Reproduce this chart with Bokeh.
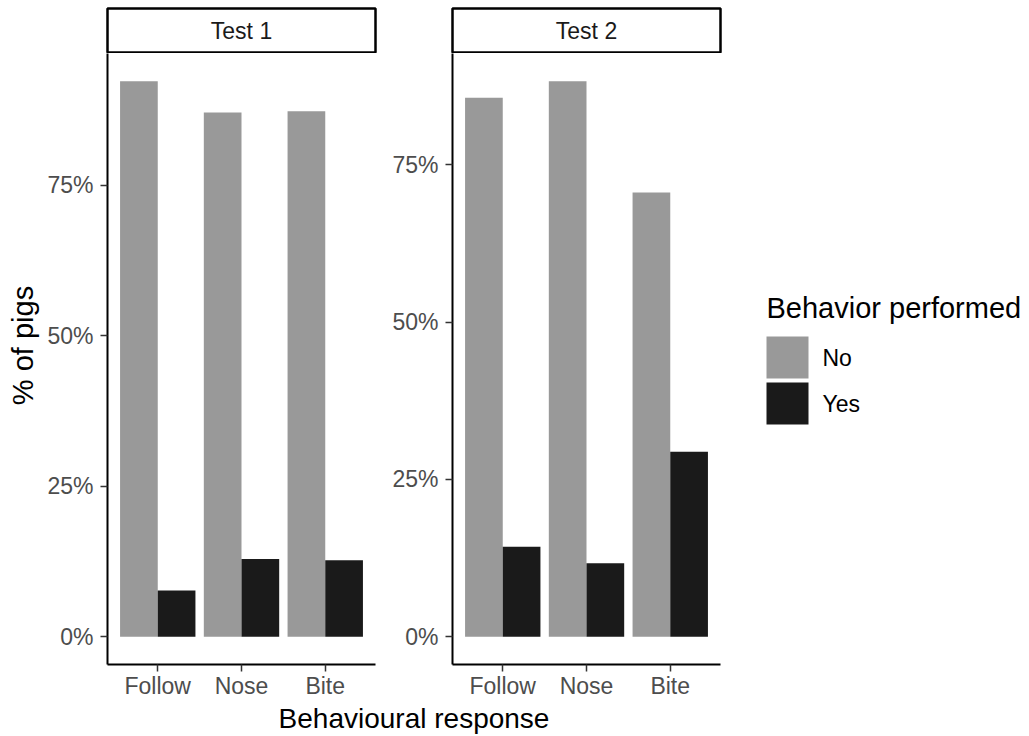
import numpy as np
from bokeh.plotting import figure
from bokeh.layouts import row, column
from bokeh.models import (ColumnDataSource, FactorRange, Range1d, FixedTicker,
                          PrintfTickFormatter, Label)
from bokeh.core.properties import value
from bokeh.transform import dodge
from bokeh.embed import file_html
from bokeh.resources import INLINE

# ---------------- data ----------------
categories = ["Follow", "Nose", "Bite"]
groups = ["No", "Yes"]
test1_no = [92.3, 87.1, 87.3]
test1_yes = [7.7, 12.9, 12.7]
test2_no = [85.7, 88.3, 70.6]
test2_yes = [14.3, 11.7, 29.4]
y_ticks = [0, 25, 50, 75]
facet_titles = ["Test 1", "Test 2"]
colors = ["#999999", "#1A1A1A"]
x_title = "Behavioural response"
y_title = "% of pigs"
legend_title = "Behavior performed"

FONT = "Liberation Sans"
TICK_PX = "23px"
TITLE_PX = "29px"

FRAME_W = 268
STRIP_H = 53
BOTTOM_B = 38
PANEL_H = 611 + BOTTOM_B
XT_H = 32
TOTAL_W = 1027
YT_W = 40
TOP_H = STRIP_H + PANEL_H


def blank_fig(width, height, xr, yr, **kw):
    f = figure(width=width, height=height, x_range=xr, y_range=yr,
               output_backend="svg", toolbar_location=None, title=None,
               x_axis_type=None, y_axis_type=None, **kw)
    f.grid.visible = False
    f.outline_line_color = None
    f.border_fill_color = "white"
    f.background_fill_color = "white"
    return f


def make_panel(no, yes, width, left, right):
    src = ColumnDataSource(dict(cat=categories, no=no, yes=yes))
    ymax = max(no + yes)
    p = figure(x_range=FactorRange(factors=categories, range_padding=0.2 / 3),
               y_range=Range1d(-0.05 * ymax, 1.05 * ymax),
               width=width, height=PANEL_H, output_backend="svg",
               toolbar_location=None, title=None,
               min_border_left=left, min_border_right=right,
               min_border_top=0, min_border_bottom=BOTTOM_B)
    p.vbar(x=dodge("cat", -0.225, range=p.x_range), top="no", width=0.45,
           source=src, fill_color=colors[0], line_color=None)
    p.vbar(x=dodge("cat", 0.225, range=p.x_range), top="yes", width=0.45,
           source=src, fill_color=colors[1], line_color=None)
    p.grid.visible = False
    p.outline_line_color = None
    p.background_fill_color = "white"
    p.border_fill_color = "white"
    for ax in (p.xaxis[0], p.yaxis[0]):
        ax.axis_line_color = "black"
        ax.axis_line_width = 2
        ax.major_tick_line_color = "#333333"
        ax.major_tick_line_width = 1.5
        ax.major_tick_in = 0
        ax.major_tick_out = 7
        ax.minor_tick_line_color = None
        ax.major_label_text_font = FONT
        ax.major_label_text_font_size = TICK_PX
        ax.major_label_text_color = "#4D4D4D"
    p.xaxis.major_label_standoff = 1
    p.yaxis.major_label_standoff = 7
    p.yaxis.ticker = FixedTicker(ticks=y_ticks, minor_ticks=[])
    p.yaxis.formatter = PrintfTickFormatter(format="%d%%")
    return p


def make_strip(text, width, left, right):
    s = figure(x_range=Range1d(0, 1), y_range=Range1d(0, 1), width=width,
               height=STRIP_H, output_backend="svg", toolbar_location=None,
               title=None, x_axis_type=None, y_axis_type=None,
               min_border_left=left, min_border_right=right,
               min_border_top=8, min_border_bottom=1)
    s.grid.visible = False
    s.outline_line_color = "black"
    s.outline_line_width = 2.5
    s.background_fill_color = "white"
    s.border_fill_color = "white"
    s.add_layout(Label(x=0.5, y=0.5, text=text, text_align="center",
                       text_baseline="middle", text_font=FONT,
                       text_font_size=TICK_PX, text_color="#1A1A1A"))
    return s


L1 = 107 - YT_W
W1 = L1 + FRAME_W + 5
W2 = 72 + FRAME_W + 5
WL = TOTAL_W - YT_W - W1 - W2

p1 = make_panel(test1_no, test1_yes, W1, L1, 5)
p2 = make_panel(test2_no, test2_yes, W2, 72, 5)
s1 = make_strip(facet_titles[0], W1, L1, 5)
s2 = make_strip(facet_titles[1], W2, 72, 5)

# y title column (pixel-like coordinates, y downward)
yt = blank_fig(YT_W, TOP_H, Range1d(0, YT_W), Range1d(TOP_H, 0), min_border=0)
yt.add_layout(Label(x=22, y=345, text=y_title, angle=np.pi / 2,
                    text_align="center", text_baseline="middle",
                    text_font=FONT, text_font_size=TITLE_PX,
                    text_color="black"))

# legend column (pixel-like coordinates, y downward)
lg = blank_fig(WL, TOP_H, Range1d(0, WL), Range1d(TOP_H, 0), min_border=0)
key_size, key_gap, key_left, key_top = 42, 4, 41, 336
key_y = [key_top + key_size / 2 + i * (key_size + key_gap) for i in range(len(groups))]
lsrc = ColumnDataSource(dict(group=groups, color=colors,
                             kx=[key_left + key_size / 2] * len(groups),
                             tx=[key_left + key_size + 14] * len(groups),
                             ky=key_y))
lg.rect(x="kx", y="ky", width=key_size, height=key_size, fill_color="color",
        line_color=None, source=lsrc)
lg.text(x="tx", y="ky", text="group", text_font=value(FONT),
        text_font_size="23px", text_color="black", text_baseline="middle",
        text_align="left", source=lsrc)
lg.add_layout(Label(x=key_left, y=307, text=legend_title, text_align="left",
                    text_baseline="middle", text_font=FONT,
                    text_font_size=TITLE_PX, text_color="black"))

# x title strip (pixel-like coordinates, y downward)
xt = blank_fig(TOTAL_W, XT_H, Range1d(0, 1), Range1d(XT_H, 0),
               min_border_left=107, min_border_right=TOTAL_W - 720,
               min_border_top=0, min_border_bottom=0)
xt.add_layout(Label(x=0.5, y=XT_H / 2, text=x_title, text_align="center",
                    text_baseline="middle", text_font=FONT,
                    text_font_size="28px", text_color="black"))

layout = column(row(yt, column(s1, p1), column(s2, p2), lg), xt)

open("out.html", "w").write(file_html(layout, INLINE))
